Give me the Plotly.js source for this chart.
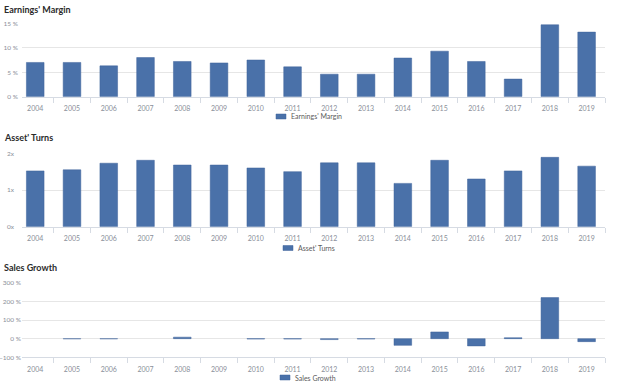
<!DOCTYPE html>
<html>
<head>
<meta charset="utf-8">
<script src="https://cdn.plot.ly/plotly-3.0.1.min.js"></script>
<style>html,body{margin:0;padding:0;background:#fff}#chart{width:624px;height:392px}</style>
</head>
<body>
<div id="chart"></div>
<script>
const years = ["2004","2005","2006","2007","2008","2009","2010","2011","2012","2013","2014","2015","2016","2017","2018","2019"];
const earningsMargin = [7.0, 7.0, 6.3, 8.0, 7.2, 6.9, 7.5, 6.1, 4.6, 4.6, 7.9, 9.3, 7.2, 3.6, 14.7, 13.2];
const assetTurns = [1.52, 1.55, 1.73, 1.81, 1.68, 1.68, 1.60, 1.50, 1.74, 1.74, 1.18, 1.81, 1.30, 1.52, 1.89, 1.65];
const salesGrowth = [null, -1, -1, null, 8, null, -2, -2, -5, -2, -36, 36, -39, 5, 220, -16];
const seriesNames = ["Earnings' Margin", "Asset' Turns", "Sales Growth"];

const W = 624, H = 392;
const barColor = "#4a71a9";
const lineColor = "#3f639a";
const FAM = "Lato, 'Open Sans', sans-serif";
const tickFont = {family: FAM, size: 7, color: "#8a8f99"};
const yTickFont = {family: FAM, size: 6.5, color: "#8a8f99"};
const titleFont = {family: FAM, size: 9, color: "#2b2b2b", weight: 700};
const legendFont = {family: FAM, size: 7, color: "#5a5a5a"};

function px(x) { return x / W; }
function py(y) { return 1 - y / H; }
const xdom = [px(22), px(605)];

function bar(y, name, xa, ya) {
  return {type: "bar", x: years, y: y, name: name, xaxis: xa, yaxis: ya, showlegend: false,
    marker: {color: barColor, line: {color: lineColor, width: 0.5}}, hoverinfo: "skip"};
}

const data = [
  bar(earningsMargin, seriesNames[0], "x", "y"),
  bar(assetTurns, seriesNames[1], "x2", "y2"),
  bar(salesGrowth, seriesNames[2], "x3", "y3")
];

function xaxis(anchor) {
  return {domain: xdom, anchor: anchor, type: "category", range: [-0.36, 15.5], tickfont: tickFont,
    showline: true, linecolor: "#d6dbe3", linewidth: 1, ticks: "outside", tickson: "boundaries",
    ticklen: 5, tickcolor: "#d6dbe3", ticklabelstandoff: 5, showgrid: false, fixedrange: true};
}
function yaxis(anchor, dom, range, dtick, suffix, standoff) {
  return {domain: dom, anchor: anchor, range: range, dtick: dtick, ticksuffix: suffix,
    tickfont: yTickFont, showgrid: true, gridcolor: "#e6e6e6", gridwidth: 1, zeroline: false,
    showline: false, ticks: "", ticklabelstandoff: standoff, fixedrange: true};
}

// legend swatches (x0,x1,y0,y1 in px) and label starts
const legends = [
  {sq: [276, 286, 114, 119], tx: 289, ty: 116.5},
  {sq: [283, 293, 245.5, 250.5], tx: 296, ty: 248},
  {sq: [280, 290, 375, 380], tx: 293, ty: 377.5}
];
const shapes = legends.map(l => ({type: "rect", xref: "paper", yref: "paper",
  x0: px(l.sq[0]), x1: px(l.sq[1]), y0: py(l.sq[3]), y1: py(l.sq[2]),
  fillcolor: barColor, line: {color: lineColor, width: 0.5}}));

const titles = [{t: seriesNames[0], y: 10}, {t: seriesNames[1], y: 137}, {t: seriesNames[2], y: 267}];
const annotations = titles.map(o => ({text: o.t, xref: "paper", yref: "paper", x: px(2), y: py(o.y),
  xanchor: "left", yanchor: "middle", showarrow: false, font: titleFont}))
  .concat(legends.map((l, i) => ({text: seriesNames[i], xref: "paper", yref: "paper", x: px(l.tx), y: py(l.ty),
  xanchor: "left", yanchor: "middle", showarrow: false, font: legendFont})));

const layout = {
  width: W, height: H, margin: {l: 0, r: 0, t: 0, b: 0}, showlegend: false,
  paper_bgcolor: "#fff", plot_bgcolor: "#fff", bargap: 0.52, hovermode: false,
  xaxis: xaxis("y"), yaxis: yaxis("x", [py(96.7), py(23.3)], [0, 15], 5, " %", 3),
  xaxis2: xaxis("y2"), yaxis2: yaxis("x2", [py(226.7), py(153.3)], [0, 2], 1, "x", 7),
  xaxis3: xaxis("y3"), yaxis3: yaxis("x3", [py(357.3), py(282.7)], [-100, 300], 100, " %", 0),
  shapes: shapes, annotations: annotations
};

Plotly.newPlot("chart", data, layout, {staticPlot: true, displayModeBar: false});
</script>
</body>
</html>
